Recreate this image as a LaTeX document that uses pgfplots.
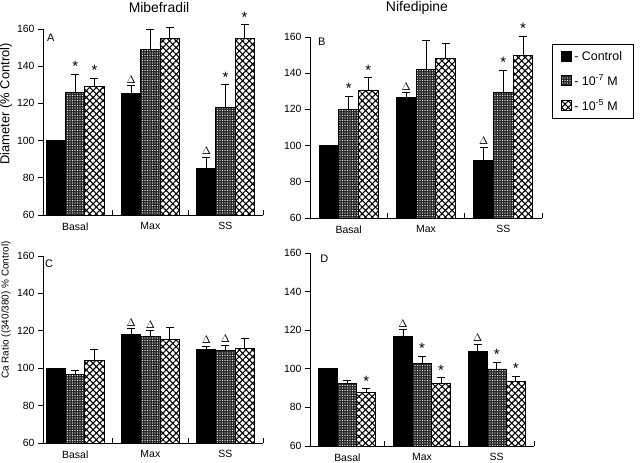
\documentclass[border=0pt]{standalone}
\usepackage{fontspec}
\setmainfont{Liberation Sans}
\usepackage{pgfplots}
\usepackage{pgfplotstable}
\pgfplotsset{compat=1.18}
\usetikzlibrary{patterns,patterns.meta}

\pgfplotsset{
 panel/.style={
  scale only axis, clip=false,
  axis x line*=bottom, axis y line*=left,
  axis line style={-, line width=0.9bp},
  ymin=0, ymax=100, ytick={0,20,40,60,80,100}, yticklabels={60,80,100,120,140,160},
  xmax=2.5, xtick={0.5,1.5,2.5}, xticklabels={,,},
  extra x ticks={0,1,2}, extra x tick labels={Basal,Max,SS},
  extra x tick style={major tick length=0pt, xticklabel style={yshift=-4bp}},
  tick align=outside, major tick length=5bp,
  tick style={black, line width=0.8bp},
  x tick style={yshift=5bp},
  tick label style={font=\fontsize{10.5}{12}\selectfont},
  /pgf/number format/assume math mode=true,
 },
 errs/.style={error bars/y dir=plus, error bars/y explicit,
   error bars/error mark=none,
   error bars/error bar style={line width=0.9bp, black}},
 barbase/.style={ybar, bar width=0.255, bar shift=0pt, draw=black, line width=0.9bp, errs,
   legend image code/.code={\draw[##1] (0bp,-5bp) rectangle (10bp,5bp);}},
 ctl/.style={barbase, fill=black},
 m7/.style={barbase, fill=black!85, postaction={pattern={Dots[distance=2.5bp,radius=0.6bp]}, pattern color=white}},
 m5/.style={barbase, fill=white, postaction={pattern={Hatch[angle=45,distance=4.7bp,line width=1.1bp]}, pattern color=black}},
 caps/.style={only marks, mark=-, mark size=4bp, mark options={line width=0.9bp, black}, forget plot},
 ann/.style={only marks, mark=text, text mark={}, forget plot,
   nodes near coords={\pgfplotspointmeta}, point meta=explicit symbolic,
   nodes near coords style={anchor=south, inner sep=1.5bp, yshift=1bp, font=\fontsize{11}{13}\selectfont, black}},
}
\newcommand{\st}{{\fontsize{15}{15}\selectfont *}}

% Panel A: Mibefradil, diameter
\pgfplotstableread{
x y e
-0.255 100 0
0.745 125.2 4.3
1.745 85.1 6.0
}\Actl
\pgfplotstableread{
x y e
0 126.1 9.7
1 148.9 11.1
2 117.8 12.2
}\Ama
\pgfplotstableread{
x y e
0.255 129.1 4.5
1.255 154.8 5.9
2.255 154.8 7.5
}\Amb
\pgfplotstableread{
x y s
0 135.8 \st
0.255 133.6 \st
0.745 129.5 $\Delta$
1.745 91.1 $\Delta$
2 130.0 \st
2.255 162.3 \st
}\Aann
% Panel B: Nifedipine, diameter
\pgfplotstableread{
x y e
-0.255 100 0
0.745 126.5 2.7
1.745 92 7
}\Bctl
\pgfplotstableread{
x y e
0 119.8 7.6
1 142.3 15.7
2 129.6 12.1
}\Bma
\pgfplotstableread{
x y e
0.255 130.5 7.0
1.255 148.2 8.3
2.255 150 10.5
}\Bmb
\pgfplotstableread{
x y s
0 127.4 \st
0.255 137.5 \st
0.745 129.2 $\Delta$
1.745 99 $\Delta$
2 141.7 \st
2.255 160.5 \st
}\Bann
% Panel C: Mibefradil, Ca ratio
\pgfplotstableread{
x y e
-0.255 100 0
0.745 117.8 3.2
1.745 109.8 1.8
}\Cctl
\pgfplotstableread{
x y e
0 96.6 2.4
1 116.9 3.1
2 109.3 2.8
}\Cma
\pgfplotstableread{
x y e
0.255 104.1 5.7
1.255 115.5 6.4
2.255 110.7 5.3
}\Cmb
\pgfplotstableread{
x y s
0.745 121 $\Delta$
1 120 $\Delta$
1.745 111.6 $\Delta$
2 112.1 $\Delta$
}\Cann
% Panel D: Nifedipine, Ca ratio
\pgfplotstableread{
x y e
-0.255 100 0
0.745 116.7 3.5
1.745 108.9 3.6
}\Dctl
\pgfplotstableread{
x y e
0 92.2 1.9
1 102.6 3.9
2 99.9 3.5
}\Dma
\pgfplotstableread{
x y e
0.255 87.9 1.7
1.255 92.5 2.8
2.255 93.5 2.6
}\Dmb
\pgfplotstableread{
x y s
0.255 89.6 \st
0.745 120.2 $\Delta$
1 106.5 \st
1.255 95.3 \st
1.745 112.5 $\Delta$
2 103.4 \st
2.255 96.1 \st
}\Dann

\newcommand{\series}[2]{%
  \addplot[#1] table[x=x, y expr=\thisrow{y}-60, y error=e] {#2};
  \addplot[caps] table[x=x, y expr=\thisrow{y}+\thisrow{e}-60] {#2};
}

\begin{document}
\begin{tikzpicture}[x=1bp,y=1bp]
\path[use as bounding box] (0,0) rectangle (640,463);
\node[font=\fontsize{14}{17}\selectfont] at (159,455) {Mibefradil};
\node[font=\fontsize{14}{17}\selectfont] at (417,455) {Nifedipine};

% Panel A
\begin{axis}[panel, at={(43bp,248bp)}, anchor=south west, width=220bp, height=186bp, xmin=-0.43,
  ylabel={Diameter (\% Control)},
  ylabel style={at={(axis description cs:-0.168,0.597)}, anchor=center, font=\fontsize{13}{15}\selectfont}]
\series{ctl}{\Actl}
\series{m7}{\Ama}
\series{m5}{\Amb}
\addplot[ann] table[x=x, y expr=\thisrow{y}-60, meta=s] {\Aann};
\node[anchor=north west, inner sep=0pt, font=\fontsize{11}{13}\selectfont] at (rel axis cs:0.018,0.975) {A};
\end{axis}

% Panel B
\begin{axis}[panel, at={(310bp,245bp)}, anchor=south west, width=232bp, height=181bp, xmin=-0.5,
  legend style={at={(1.043,0.961)}, anchor=north west, draw=black, line width=0.8bp,
    font=\fontsize{12.5}{14}\selectfont, inner xsep=9bp, inner ysep=5bp, row sep=9bp,
    /tikz/every even column/.append style={column sep=9bp}},
  legend cell align=left]
\series{ctl}{\Bctl}
\addlegendentry{- Control}
\series{m7}{\Bma}
\addlegendentry{- 10\textsuperscript{-7} M}
\series{m5}{\Bmb}
\addlegendentry{- 10\textsuperscript{-5} M}
\addplot[ann] table[x=x, y expr=\thisrow{y}-60, meta=s] {\Bann};
\node[anchor=north west, inner sep=0pt, font=\fontsize{11}{13}\selectfont] at (rel axis cs:0.034,0.995) {B};
\end{axis}

% Panel C
\begin{axis}[panel, at={(43bp,20bp)}, anchor=south west, width=220bp, height=187bp, xmin=-0.43,
  ylabel={Ca Ratio ((340/380) \% Control)},
  ylabel style={at={(axis description cs:-0.168,0.711)}, anchor=center, font=\fontsize{10}{12}\selectfont}]
\series{ctl}{\Cctl}
\series{m7}{\Cma}
\series{m5}{\Cmb}
\addplot[ann] table[x=x, y expr=\thisrow{y}-60, meta=s] {\Cann};
\node[anchor=north west, inner sep=0pt, font=\fontsize{11}{13}\selectfont] at (rel axis cs:0.009,0.978) {C};
\end{axis}

% Panel D
\begin{axis}[panel, at={(310bp,17bp)}, anchor=south west, width=224bp, height=193bp, xmin=-0.5]
\series{ctl}{\Dctl}
\series{m7}{\Dma}
\series{m5}{\Dmb}
\addplot[ann] table[x=x, y expr=\thisrow{y}-60, meta=s] {\Dann};
\node[anchor=north west, inner sep=0pt, font=\fontsize{11}{13}\selectfont] at (rel axis cs:0.045,0.99) {D};
\end{axis}
\end{tikzpicture}
\end{document}
